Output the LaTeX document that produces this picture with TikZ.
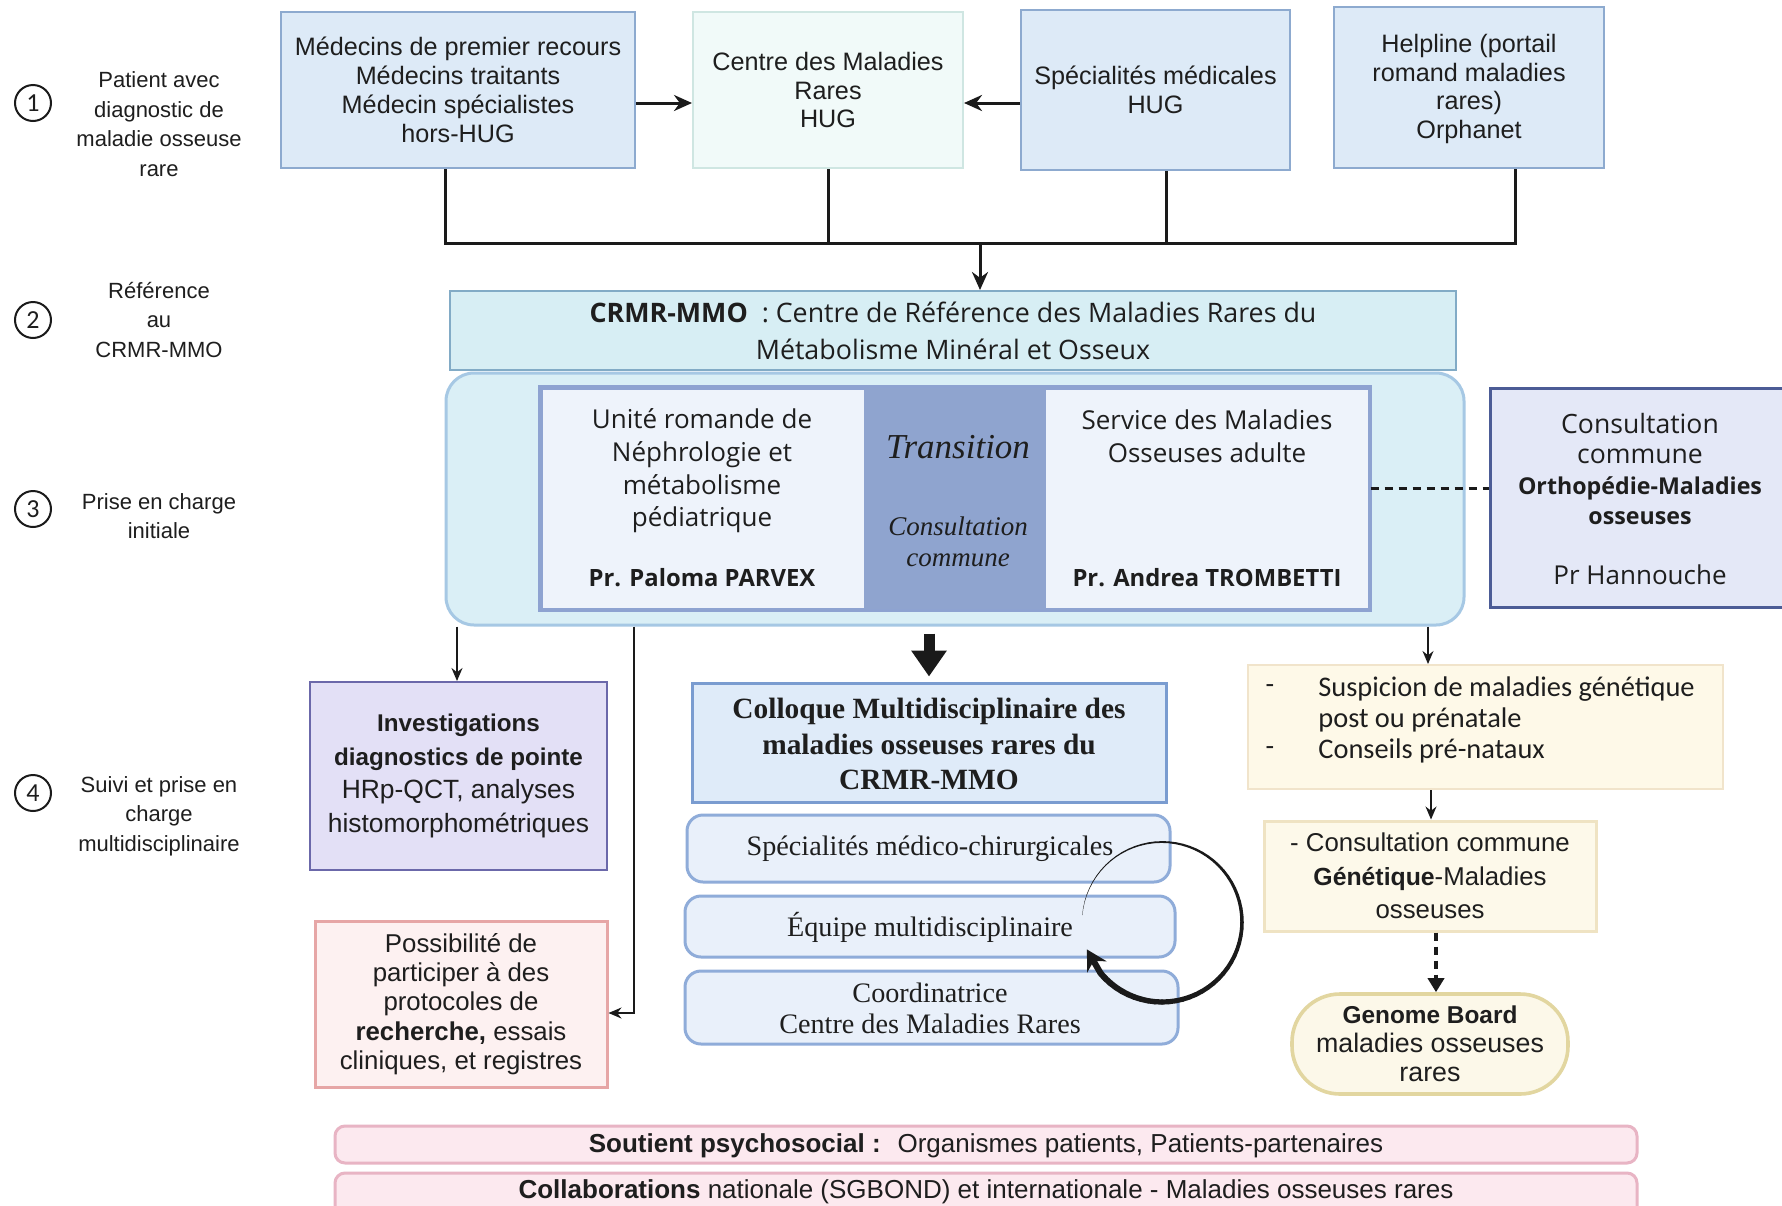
\documentclass[tikz,border=0pt]{standalone}
\usepackage{fontspec}
\setmainfont{Liberation Sans}
\newfontfamily\osans{Open Sans}
\newfontfamily\lserif{Liberation Serif}
\newfontfamily\calib{Carlito}
\usetikzlibrary{arrows.meta,fit,calc}
\newcommand\fs[2]{\fontsize{#1}{#2}\selectfont}
\definecolor{tcol}{HTML}{1E1E1E}
\definecolor{bluef}{HTML}{DDEAF7}\definecolor{blued}{HTML}{8DAACF}
\definecolor{mintf}{HTML}{F1FAF9}\definecolor{mintd}{HTML}{CFE6E2}
\definecolor{crmrf}{HTML}{D7EEF4}\definecolor{crmrd}{HTML}{82ABC6}
\definecolor{bigf}{HTML}{DAEFF6}\definecolor{bigd}{HTML}{A6C8E4}
\definecolor{innf}{HTML}{EEF3FB}\definecolor{innd}{HTML}{8EA3D1}
\definecolor{transf}{HTML}{8FA4CF}
\definecolor{consf}{HTML}{E4E8F7}\definecolor{consd}{HTML}{4C5C96}
\definecolor{invf}{HTML}{E3E0F6}\definecolor{invd}{HTML}{6B68AA}
\definecolor{posf}{HTML}{FDF1F1}\definecolor{posd}{HTML}{E6A6A6}
\definecolor{colf}{HTML}{DFEBF9}\definecolor{cold}{HTML}{7A9CD0}
\definecolor{rndf}{HTML}{E9F0FA}\definecolor{rndd}{HTML}{8FACD9}
\definecolor{susf}{HTML}{FEF9E8}\definecolor{susd}{HTML}{F1E4CB}
\definecolor{genf}{HTML}{FDF9EA}\definecolor{gend}{HTML}{EFE3C3}
\definecolor{gbf}{HTML}{FCF8E9}\definecolor{gbd}{HTML}{E2D6A0}
\definecolor{pkf}{HTML}{FCE9EF}\definecolor{pkd}{HTML}{E8B4C4}
\definecolor{linec}{HTML}{1A1A1A}
\tikzset{
  bx/.style 2 args={inner sep=0pt, fill=#1, draw=#2, line width=1pt},
  txt/.style={align=center, text=tcol, inner sep=0pt},
  lbl/.style={txt, font=\fs{11}{14.75}},
  numc/.style={circle, draw=linec, line width=1pt, minimum size=18pt, inner sep=0pt, text=tcol, font=\calib\fs{13}{14}},
  arr/.style={draw=linec, line width=1.5pt, -{Stealth[length=9pt,width=8pt]}},
  tarr/.style={draw=linec, line width=0.75pt, -{Stealth[length=6.5pt,width=5.5pt]}},
  bus/.style={draw=linec, line width=1.5pt},
}
\begin{document}
\begin{tikzpicture}[x=0.5pt,y=-0.5pt]
\useasboundingbox (0,0) rectangle (1782,1205);
\fill[white] (0,0) rectangle (1782,1205);

% left labels
\node[numc] (n1) at (33,103) {1};
\node[lbl] (l1) at (159,124) {Patient avec\\diagnostic de\\maladie osseuse\\rare};
\node[numc] (n2) at (33,320) {2};
\node[lbl] (l2) at (159,320) {Référence\\au\\CRMR-MMO};
\node[numc] (n3) at (33,509) {3};
\node[lbl] (l3) at (159,516) {Prise en charge\\initiale};
\node[numc] (n4) at (33,793) {4};
\node[lbl] (l4) at (159,816) {Suivi et prise en\\charge\\multidisciplinaire};

% top boxes
\node[bx={bluef}{blued}, fit={(281,12) (635,168)}] (mp) {};
\node[txt, font=\fs{12.6}{14.4}] (mpT) at (mp.center) {Médecins de premier recours\\Médecins traitants\\Médecin spécialistes\\hors-HUG};
\node[bx={mintf}{mintd}, fit={(693,12) (963,168)}] (cm) {};
\node[txt, font=\fs{12.6}{14.4}] (cmT) at (cm.center) {Centre des Maladies\\Rares\\HUG};
\node[bx={bluef}{blued}, fit={(1021,10) (1290,170)}] (sp) {};
\node[txt, font=\fs{12.6}{14.8}] (spT) at (sp.center) {Spécialités médicales\\HUG};
\node[bx={bluef}{blued}, fit={(1334,7) (1604,168)}] (hl) {};
\node[txt, font=\fs{12.6}{14.4}] (hlT) at (1469,89) {Helpline (portail\\romand maladies\\rares)\\Orphanet};

\coordinate (ya) at (0,103);
\draw[arr] (mp.east |- ya) -- (cm.west |- ya);
\draw[arr] (sp.west |- ya) -- (cm.east |- ya);

% bus
\coordinate (b1) at (445,243);
\coordinate (b2) at (828,243);
\coordinate (b3) at (1166,243);
\coordinate (b4) at (1515,243);
\coordinate (b0) at (980,243);
\draw[bus] (mp.south -| b1) -- (b1) -- (b4) -- (hl.south -| b4);
\draw[bus] (cm.south -| b2) -- (b2);
\draw[bus] (sp.south -| b3) -- (b3);

% CRMR
\node[bx={crmrf}{crmrd}, fit={(450,291) (1456,370)}] (crmr) {};
\node[txt, font=\osans\fs{13.4}{18.5}] (crmrT) at (crmr.center) {\textbf{CRMR-MMO}~ : Centre de Référence des Maladies Rares du\\Métabolisme Minéral et Osseux};
\draw[arr] (b0) -- (crmr.north -| b0);

% big rounded group
\node[bx={bigf}{bigd}, line width=1.5pt, rounded corners=14pt, fit={(446,373) (1464,625)}] (big) {};
\node[bx={innf}{innd}, line width=1.5pt, fit={(541,388) (1369,609)}] (inner) {};
\node[inner sep=0pt, fill=transf, fit={(864,388) (1046,609)}] (tr) {};
\draw[innd, line width=1.5pt] (inner.north west) rectangle (inner.south east);

\node[txt, font=\osans\fs{13}{16.3}] (unT) at (702,471) {Unité romande de\\Néphrologie et\\métabolisme\\pédiatrique};
\node[txt, font=\osans\bfseries\fs{11.9}{16}] (unP) at (702,578) {Pr. Paloma PARVEX};
\node[txt, font=\lserif\itshape\fs{17.5}{20}] (trT) at (958,447) {Transition};
\node[txt, font=\lserif\itshape\fs{13.5}{15.5}] (trC) at (958,542) {Consultation\\commune};
\node[txt, font=\osans\fs{13}{16.3}] (svT) at (1207,436) {Service des Maladies\\Osseuses adulte};
\node[txt, font=\osans\bfseries\fs{11.9}{16}] (svP) at (1207,578) {Pr. Andrea TROMBETTI};

% right consultation box
\node[bx={consf}{consd}, line width=1.5pt, fit={(1490,388) (1800,607)}] (cons) {};
\node[txt, font=\osans\fs{13.3}{15.3}] (consT) at (1640,469) {Consultation\\commune\\{\bfseries\fs{11.6}{15.3}Orthopédie-Maladies}\\{\bfseries\fs{11.6}{15.3}osseuses}};
\node[txt, font=\osans\fs{13}{16}] (consP) at (1640,575) {Pr Hannouche};
\coordinate (yd) at (0,488);
\draw[linec, line width=1.5pt, dash pattern=on 4pt off 3pt] (inner.east |- yd) -- (cons.west |- yd);

% lower left
\node[bx={invf}{invd}, fit={(310,682) (607,870)}] (inv) {};
\node[txt, font=\fs{13.2}{16.9}] (invT) at (inv.center) {{\bfseries\fs{12.1}{16.9}Investigations}\\{\bfseries\fs{12.1}{16.9}diagnostics de pointe}\\HRp-QCT, analyses\\histomorphométriques};
\node[bx={posf}{posd}, line width=1.5pt, fit={(315,921) (607,1087)}] (pos) {};
\node[txt, font=\fs{12.9}{14.7}] (posT) at (461,1004) {Possibilité de\\participer à des\\protocoles de\\\textbf{recherche,} essais\\cliniques, et registres};

\coordinate (xA) at (457,0);
\coordinate (xB) at (634,0);
\coordinate (yB) at (0,1013);
\draw[tarr] (big.south -| xA) -- (inv.north -| xA);
\draw[tarr] (big.south -| xB) -- (xB |- yB) -- (pos.east |- yB);

% centre column
\node[bx={colf}{cold}, line width=1.5pt, fit={(692,683) (1166,802)}] (col) {};
\node[txt, font=\lserif\bfseries\fs{14.7}{17.7}] (colT) at (929,744) {Colloque Multidisciplinaire des\\maladies osseuses rares du\\CRMR-MMO};
\draw[draw=linec, line width=5.5pt, shorten <=3.5pt, shorten >=2.5pt, -{Triangle[length=13pt,width=17pt]}] (col.north |- big.south) -- (col.north);

\node[bx={rndf}{rndd}, line width=1.5pt, rounded corners=8pt, fit={(687,815) (1170,882)}] (smc) {};
\node[txt, font=\lserif\fs{14.1}{15.5}] (smcT) at (930,849) {Spécialités médico-chirurgicales};
\node[bx={rndf}{rndd}, line width=1.5pt, rounded corners=8pt, fit={(685,896) (1175,957)}] (eq) {};
\node[txt, font=\lserif\fs{14.1}{15.5}] (eqT) at (930,927) {Équipe multidisciplinaire};
\node[bx={rndf}{rndd}, line width=1.5pt, rounded corners=8pt, fit={(685,971) (1178,1044)}] (co) {};
\node[txt, font=\lserif\fs{14.1}{15.5}] (coT) at (930,1008.5) {Coordinatrice\\Centre des Maladies Rares};

% circular arrow
\foreach \a [evaluate=\a as \w using {0.12+(175-\a)*0.0095}] in {175,170,...,-135} {
  \draw[linec, line width=\w pt, line cap=round] ({1162+80*cos(\a)},{922-80*sin(\a)}) -- ({1162+80*cos(\a-5)},{922-80*sin(\a-5)});
}
\draw[linec, line width=3.1pt, -{Stealth[length=10pt,width=11pt]}] ({1162+80*cos(-140)},{922-80*sin(-140)}) -- ({1162+80*cos(-160)},{922-80*sin(-160)});

% right column
\node[bx={susf}{susd}, fit={(1248,665) (1723,789)}] (sus) {};
\node[txt, font=\calib\fs{14.2}{15.5}, anchor=west, align=left] (susT) at (1318,720) {Suspicion de maladies génétique\\post ou prénatale\\Conseils pré-nataux};
\node[txt, font=\calib\fs{14}{15.5}] (sd1) at (1270,689) {-};
\node[txt, font=\calib\fs{14}{15.5}] (sd2) at (1270,751) {-};
\coordinate (xD) at (1428,0);
\draw[tarr] (big.south -| xD) -- (sus.north -| xD);

\node[bx={genf}{gend}, line width=1.5pt, fit={(1264,821) (1596,931)}] (gen) {};
\node[txt, font=\fs{12.9}{16.7}] (genT) at (gen.center) {- Consultation commune\\{\bfseries\fs{12.4}{16.7}Génétique}-Maladies\\osseuses};
\coordinate (xG) at (1431,0);
\draw[tarr] (sus.south -| xG) -- (gen.north -| xG);

\node[bx={gbf}{gbd}, line width=1.8pt, rounded corners=24pt, fit={(1292,994) (1568,1094)}] (gb) {};
\node[txt, font=\fs{13.4}{14.5}] (gbT) at (1430,1044) {{\bfseries\fs{12.2}{14.5}Genome Board}\\maladies osseuses\\rares};
\coordinate (xG2) at (1436,0);
\draw[draw=linec, line width=2pt, dash pattern=on 4pt off 3pt, -{Triangle[length=7pt,width=8pt]}] (gen.south -| xG2) -- (gb.north -| xG2);

% bottom bands
\node[bx={pkf}{pkd}, line width=1.5pt, rounded corners=5pt, fit={(335,1126) (1637,1163)}] (sout) {};
\node[txt, font=\fs{13}{15}] (soutT) at (986,1146) {\textbf{Soutient psychosocial :}~ Organismes patients, Patients-partenaires};
\node[bx={pkf}{pkd}, line width=1.5pt, rounded corners=5pt, fit={(335,1173) (1637,1225)}] (coll) {};
\node[txt, font=\fs{13}{15}] (collT) at (986,1192) {\textbf{Collaborations} nationale (SGBOND) et internationale - Maladies osseuses rares};
\end{tikzpicture}
\end{document}
